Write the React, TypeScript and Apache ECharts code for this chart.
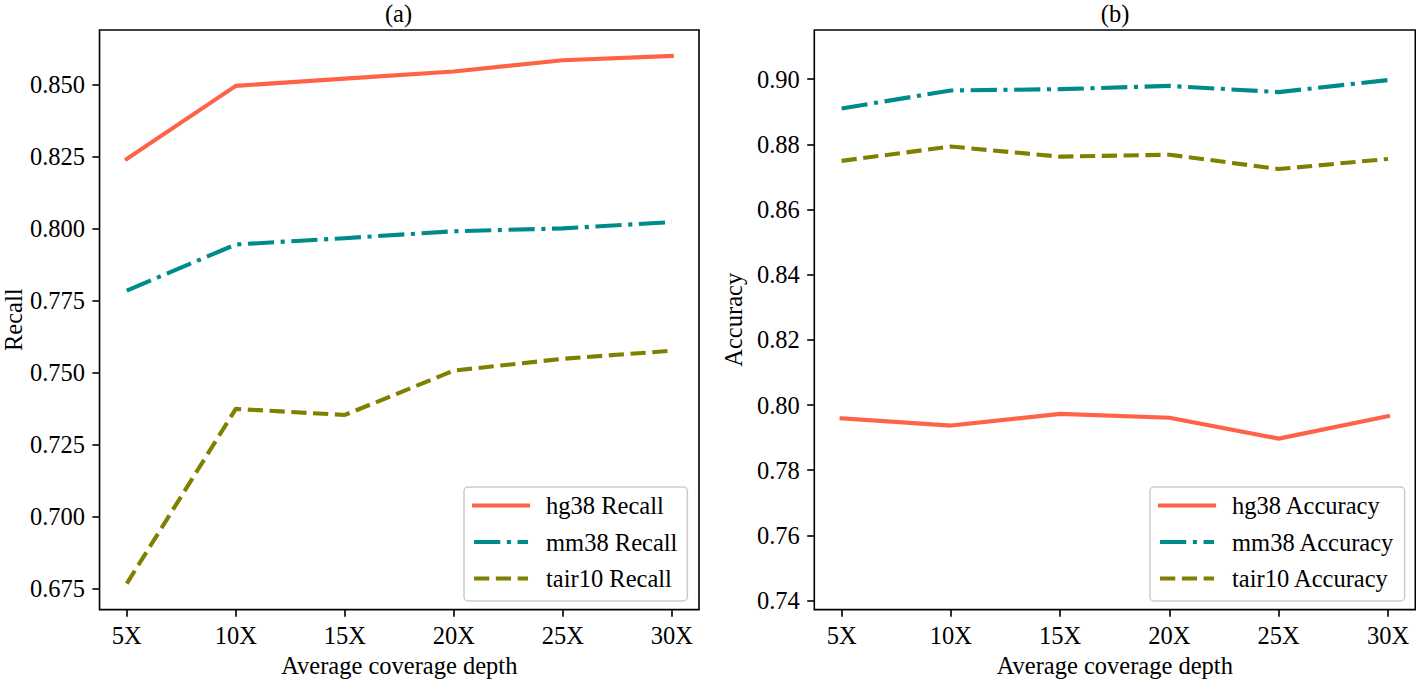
import React, { useEffect, useRef } from "react";
import * as echarts from "echarts";

const categories = ["5X", "10X", "15X", "20X", "25X", "30X"];

const recallHg38 = [0.8241, 0.8495, 0.852, 0.8545, 0.8584, 0.8599];
const recallMm38 = [0.7784, 0.7944, 0.7966, 0.799, 0.8, 0.8022];
const recallTair10 = [0.6766, 0.7373, 0.7352, 0.7506, 0.7547, 0.7575];

const accHg38 = [0.7959, 0.7937, 0.7973, 0.7961, 0.7897, 0.7966];
const accMm38 = [0.891, 0.8965, 0.8969, 0.8979, 0.896, 0.8997];
const accTair10 = [0.8749, 0.8793, 0.8762, 0.8768, 0.8724, 0.8755];

const recallTicks = [0.675, 0.7, 0.725, 0.75, 0.775, 0.8, 0.825, 0.85];
const accTicks = [0.74, 0.76, 0.78, 0.8, 0.82, 0.84, 0.86, 0.88, 0.9];

const recallRange = [0.6676, 0.8689];
const accRange = [0.73725, 0.91505];

const FONT = "'Liberation Serif', 'Times New Roman', Times, serif";
const FS = 24.5;
const TOMATO = "#ff6347";
const TEAL = "#008b8b";
const OLIVE = "#808000";
const LW = 4.1;
const DASH = [15.2, 6.6];
const DASHDOT = [26.2, 6.6, 4.1, 6.6];

const catIdx = categories.map((_, i) => i);

function xAxisFor(gridIndex: number) {
  return {
    type: "value",
    gridIndex,
    min: -0.25,
    max: 5.25,
    axisLine: { show: false, onZero: false },
    splitLine: { show: false },
    axisTick: {
      show: true,
      inside: false,
      length: 7.1,
      lineStyle: { color: "#000", width: 1.6 },
      customValues: catIdx,
    },
    axisLabel: {
      customValues: catIdx,
      formatter: (v: number) => categories[Math.round(v)],
      margin: 13.5,
      color: "#000",
      fontFamily: FONT,
      fontSize: FS,
    },
    name: "Average coverage depth",
    nameLocation: "middle",
    nameGap: 43,
    nameTextStyle: { color: "#000", fontFamily: FONT, fontSize: FS },
  };
}

function yAxisFor(
  gridIndex: number,
  range: number[],
  ticks: number[],
  digits: number,
  name: string,
  nameGap: number
) {
  return {
    type: "value",
    gridIndex,
    min: range[0],
    max: range[1],
    axisLine: { show: false, onZero: false },
    splitLine: { show: false },
    axisTick: {
      show: true,
      inside: false,
      length: 7.1,
      lineStyle: { color: "#000", width: 1.6 },
      customValues: ticks,
    },
    axisLabel: {
      customValues: ticks,
      formatter: (v: number) => v.toFixed(digits),
      margin: 14.5,
      color: "#000",
      fontFamily: FONT,
      fontSize: FS,
    },
    name,
    nameLocation: "middle",
    nameGap,
    nameRotate: 90,
    nameTextStyle: { color: "#000", fontFamily: FONT, fontSize: FS },
  };
}

function lineSeries(
  name: string,
  values: number[],
  axisIndex: number,
  color: string,
  type: any,
  cap: string
) {
  return {
    name,
    type: "line",
    xAxisIndex: axisIndex,
    yAxisIndex: axisIndex,
    data: values.map((v, i) => [i, v]),
    symbol: "none",
    showSymbol: false,
    silent: true,
    lineStyle: { color, width: LW, type, cap, join: "round" },
    itemStyle: { color },
  };
}

const legendStyles = [
  { color: TOMATO, type: "solid" as any },
  { color: TEAL, type: DASHDOT as any },
  { color: OLIVE, type: DASH as any },
];

function legendFor(names: string[], left: number) {
  return {
    data: names.map((name, i) => ({
      name,
      lineStyle: { color: legendStyles[i].color, type: legendStyles[i].type, width: LW },
    })),
    orient: "vertical",
    left,
    top: 487,
    itemWidth: 54,
    itemHeight: 14,
    itemGap: 11.5,
    padding: [6, 10, 10, 8],
    selectedMode: false,
    backgroundColor: "rgba(255,255,255,0.8)",
    borderColor: "#cccccc",
    borderWidth: 1.5,
    borderRadius: 4,
    lineStyle: { width: LW },
    itemStyle: { color: "rgba(0,0,0,0)", borderWidth: 0, opacity: 0 },
    textStyle: {
      color: "#000",
      fontFamily: FONT,
      fontSize: FS,
      padding: [0, 0, 0, 13],
    },
  };
}

export default function App() {
  const ref = useRef<HTMLDivElement>(null);

  useEffect(() => {
    if (!ref.current) return;
    const chart = echarts.init(ref.current, null, { renderer: "svg" });
    const option: any = {
      animation: false,
      backgroundColor: "#ffffff",
      title: [
        {
          text: "(a)",
          left: 398.5,
          top: 1,
          padding: 0,
          textAlign: "center",
          textStyle: { color: "#000", fontFamily: FONT, fontSize: FS, fontWeight: "normal" },
        },
        {
          text: "(b)",
          left: 1115,
          top: 1,
          padding: 0,
          textAlign: "center",
          textStyle: { color: "#000", fontFamily: FONT, fontSize: FS, fontWeight: "normal" },
        },
      ],
      grid: [
        {
          left: 98,
          top: 30,
          width: 601,
          height: 582.5,
          show: true,
          borderColor: "#000",
          borderWidth: 1.6,
          backgroundColor: "transparent",
          containLabel: false,
        },
        {
          left: 814.3,
          top: 30,
          width: 601,
          height: 582.5,
          show: true,
          borderColor: "#000",
          borderWidth: 1.6,
          backgroundColor: "transparent",
          containLabel: false,
        },
      ],
      xAxis: [xAxisFor(0), xAxisFor(1)],
      yAxis: [
        yAxisFor(0, recallRange, recallTicks, 3, "Recall", 73.5),
        yAxisFor(1, accRange, accTicks, 2, "Accuracy", 68),
      ],
      legend: [
        legendFor(["hg38 Recall", "mm38 Recall", "tair10 Recall"], 464),
        legendFor(["hg38 Accuracy", "mm38 Accuracy", "tair10 Accuracy"], 1150),
      ],
      series: [
        lineSeries("hg38 Recall", recallHg38, 0, TOMATO, "solid", "square"),
        lineSeries("mm38 Recall", recallMm38, 0, TEAL, DASHDOT, "butt"),
        lineSeries("tair10 Recall", recallTair10, 0, OLIVE, DASH, "butt"),
        lineSeries("hg38 Accuracy", accHg38, 1, TOMATO, "solid", "square"),
        lineSeries("mm38 Accuracy", accMm38, 1, TEAL, DASHDOT, "butt"),
        lineSeries("tair10 Accuracy", accTair10, 1, OLIVE, DASH, "butt"),
      ],
    };
    chart.setOption(option);
    return () => {
      chart.dispose();
    };
  }, []);

  return (
    <div
      ref={ref}
      style={{ position: "fixed", left: 0, top: 0, width: 1416, height: 683, background: "#fff" }}
    />
  );
}
